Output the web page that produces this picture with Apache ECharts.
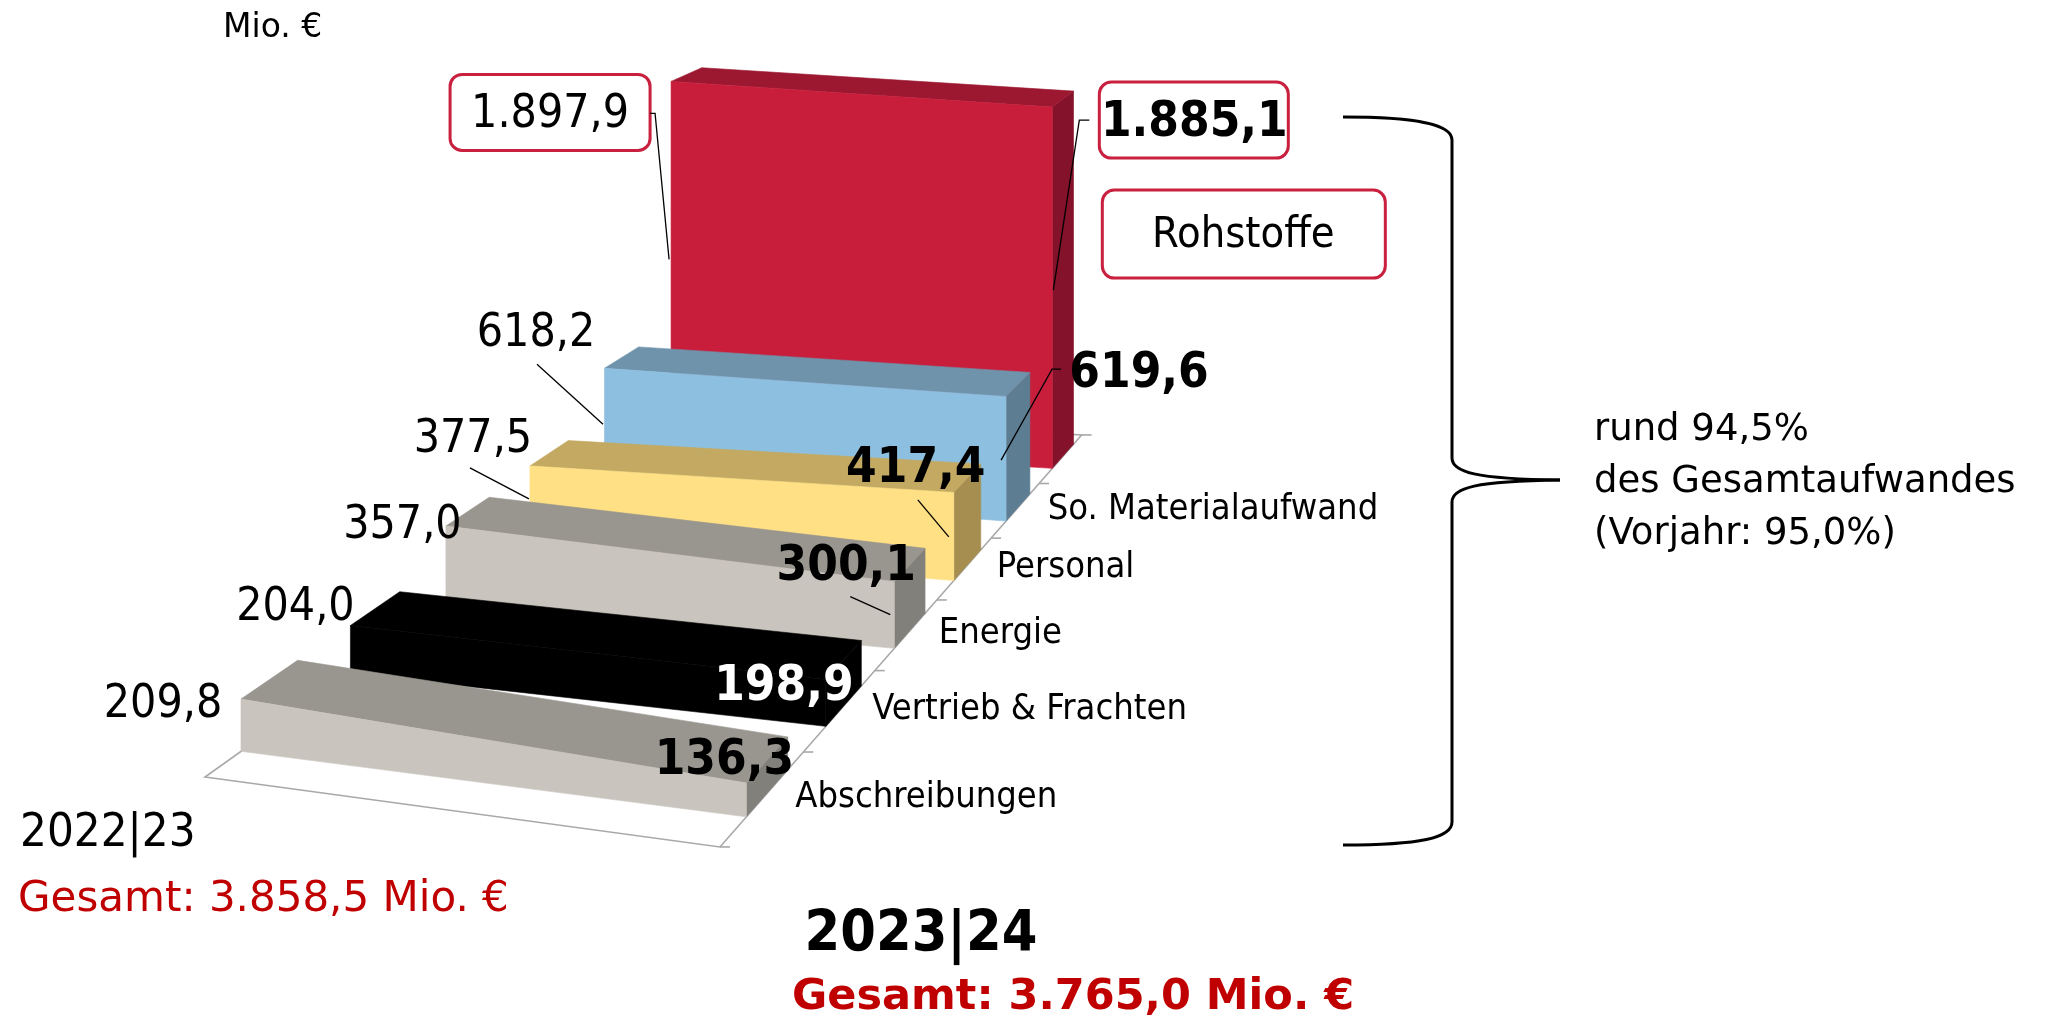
<!DOCTYPE html>
<html>
<head>
<meta charset="utf-8">
<title>Aufwandsstruktur</title>
<script src="https://cdn.jsdelivr.net/npm/echarts@6/dist/echarts.min.js"></script>
<style>
  html, body { margin: 0; padding: 0; background: #ffffff; }
  #chart { width: 2045px; height: 1021px; }
</style>
</head>
<body>
<div id="chart"></div>
<script>
// Aufwandsstruktur in Mio. €, 2022|23 gegenüber 2023|24
const categories = ['Abschreibungen', 'Vertrieb & Frachten', 'Energie', 'Personal', 'So. Materialaufwand', 'Rohstoffe'];
const years = ['2022|23', '2023|24'];
const values2223 = [209.8, 204.0, 357.0, 377.5, 618.2, 1897.9];
const values2324 = [136.3, 198.9, 300.1, 417.4, 619.6, 1885.1];
const totals = [3858.5, 3765.0];
const shareCurrent = 94.5;
const sharePrevious = 95.0;
const valueAxisMax = 2000;

// ---- styling ----
const FONT_N = "'DejaVu Sans Condensed', 'DejaVu Sans', sans-serif";
const FONT_W = "'DejaVu Sans', sans-serif";
const RED_TEXT = '#C00000';
const BOX_RED = '#C8203E';

const ribbonColors = [
  { front: '#C9C4BD', top: '#99968F', side: '#82807B' },
  { front: '#000000', top: '#000000', side: '#000000' },
  { front: '#C9C4BD', top: '#99968F', side: '#82807B' },
  { front: '#FFE085', top: '#C3A961', side: '#A68E50' },
  { front: '#8DC0E0', top: '#6E93AB', side: '#5D7E92' },
  { front: '#C81E3C', top: '#9C1730', side: '#84122A' }
];

// Perspective of the 3D floor (t along the years, z along the rows)
const VIEW = {
  fx: [443.7, 138, 205, -3],
  fy: [-13.9, -29.42, 777],
  fw: [-0.099, 0.0746],
  depthShrink: 0.061,
  rowFront: 0.3,
  rowDepth: 0.5,
  rows: categories.length
};

function project(t, z, h) {
  const w = VIEW.fw[0] * t + VIEW.fw[1] * z + 1;
  const x = (VIEW.fx[0] * t + VIEW.fx[1] * z + VIEW.fx[2] + VIEW.fx[3] * t * z) / w;
  const y = (VIEW.fy[0] * t + VIEW.fy[1] * z + VIEW.fy[2]) / w - h / (1 + VIEW.depthShrink * z);
  return [x, y];
}

// label offsets relative to the front top corners of each ribbon
const labelLayout = [
  { left: { dx: -78, dy: 6 }, right: { dx: -22, dy: -22 } },
  { left: { dx: -55, dy: -17 }, right: { dx: -42, dy: 8, color: '#ffffff' } },
  { left: { dx: -43.5, dy: 0 }, right: { dx: -48, dy: -14, leader: [[-44, 15], [-4, 33]] } },
  { left: { dx: -57, dy: -26, leader: [[-60, 2], [-1, 33]] },
    right: { dx: -38, dy: -23, leader: [[-36, 7.5], [-5, 44.5]] } },
  { left: { dx: -68.5, dy: -34, leader: [[-67.5, -4], [-1.5, 56]] },
    right: { dx: 133, dy: -22, leader: [[55, -27.5], [46, -27.5], [-5, 63.5]] } },
  { left: { dx: -121, dy: 34, box: [-221, -7, 200, 76], leader: [[-21, 32], [-16, 32], [-2, 178]] },
    right: { dx: 142, dy: 16, box: [47, -25, 189, 76], leader: [[37, 13], [27, 13], [1, 183]] },
    nameBox: { dx: 191, dy: 129, box: [50, 83, 283, 88] } }
];

function fmtDe(v, digits) {
  const parts = v.toFixed(digits).split('.');
  const intPart = parts[0].replace(/\B(?=(\d{3})+(?!\d))/g, '.');
  return parts.length > 1 ? intPart + ',' + parts[1] : intPart;
}

// rows drawn from back to front
const ribbonData = [];
for (let i = categories.length - 1; i >= 0; i--) {
  ribbonData.push([i, values2223[i], values2324[i]]);
}

function ribbonGeometry(params, api, row, v0, v1) {
  const rect = params.coordSys;
  const base = rect.y + rect.height;
  const p0 = api.coord([0, v0]);
  const p1 = api.coord([1, v1]);
  return {
    t0: (p0[0] - rect.x) / rect.width,
    t1: (p1[0] - rect.x) / rect.width,
    h0: base - p0[1],
    h1: base - p1[1],
    zf: row + VIEW.rowFront,
    zb: row + VIEW.rowFront + VIEW.rowDepth
  };
}

function renderRibbon(params, api) {
  const row = api.value(0);
  const g = ribbonGeometry(params, api, row, api.value(1), api.value(2));
  const c = ribbonColors[row];
  const front = [project(g.t0, g.zf, 0), project(g.t1, g.zf, 0), project(g.t1, g.zf, g.h1), project(g.t0, g.zf, g.h0)];
  const top = [project(g.t0, g.zf, g.h0), project(g.t1, g.zf, g.h1), project(g.t1, g.zb, g.h1), project(g.t0, g.zb, g.h0)];
  const side = [project(g.t1, g.zf, 0), project(g.t1, g.zb, 0), project(g.t1, g.zb, g.h1), project(g.t1, g.zf, g.h1)];
  return {
    type: 'group',
    children: [
      { type: 'polygon', shape: { points: side }, style: { fill: c.side, stroke: c.side, lineWidth: 0.6 } },
      { type: 'polygon', shape: { points: top }, style: { fill: c.top, stroke: c.top, lineWidth: 0.6 } },
      { type: 'polygon', shape: { points: front }, style: { fill: c.front, stroke: c.front, lineWidth: 0.6 } }
    ]
  };
}

function renderFloor(params, api) {
  const rect = params.coordSys;
  const tl = (api.coord([0, 0])[0] - rect.x) / rect.width;
  const tr = (api.coord([1, 0])[0] - rect.x) / rect.width;
  const n = VIEW.rows;
  const children = [{
    type: 'polygon',
    shape: { points: [project(tl, 0, 0), project(tr, 0, 0), project(tr, n, 0), project(tl, n, 0)] },
    style: { fill: '#ffffff', stroke: '#A8A8A8', lineWidth: 1.6 }
  }];
  for (let k = 0; k <= n; k++) {
    const p = project(tr, k, 0);
    children.push({ type: 'line', shape: { x1: p[0], y1: p[1], x2: p[0] + 10, y2: p[1] },
      style: { stroke: '#A8A8A8', lineWidth: 1.6 } });
  }
  for (let i = 0; i < n - 1; i++) {
    const p = project(tr, i + 0.5, 0);
    children.push({ type: 'text', x: p[0] + 32, y: p[1],
      style: { text: categories[i], font: '36px ' + FONT_N, fill: '#000', align: 'left', verticalAlign: 'middle' } });
  }
  return { type: 'group', children: children };
}

function labelElements(anchor, spec, text, bold, size) {
  const out = [];
  if (spec.box) {
    out.push({ type: 'rect',
      shape: { x: anchor[0] + spec.box[0], y: anchor[1] + spec.box[1], width: spec.box[2], height: spec.box[3], r: 12 },
      style: { fill: '#ffffff', stroke: BOX_RED, lineWidth: 3 } });
  }
  if (spec.leader) {
    out.push({ type: 'polyline',
      shape: { points: spec.leader.map(function (p) { return [anchor[0] + p[0], anchor[1] + p[1]]; }) },
      style: { stroke: '#000', lineWidth: 1.3, fill: null } });
  }
  out.push({ type: 'text', x: anchor[0] + spec.dx, y: anchor[1] + spec.dy,
    style: { text: text, font: (bold ? 'bold ' : '') + size + 'px ' + FONT_N,
      fill: spec.color || '#000', align: 'center', verticalAlign: 'middle' } });
  return out;
}

function renderLabels(params, api) {
  const row = api.value(0);
  const v0 = api.value(1), v1 = api.value(2);
  const g = ribbonGeometry(params, api, row, v0, v1);
  const lay = labelLayout[row];
  const aLeft = project(g.t0, g.zf, g.h0);
  const aRight = project(g.t1, g.zf, g.h1);
  let children = [];
  children = children.concat(labelElements(aLeft, lay.left, fmtDe(v0, 1), false, 46));
  children = children.concat(labelElements(aRight, lay.right, fmtDe(v1, 1), true, 49));
  if (lay.nameBox) {
    children = children.concat(labelElements(aRight, lay.nameBox, categories[row], false, 43));
  }
  return { type: 'group', children: children };
}

const chart = echarts.init(document.getElementById('chart'), null, { renderer: 'canvas' });

const braceText = 'rund ' + fmtDe(shareCurrent, 1) + '%\ndes Gesamtaufwandes\n(Vorjahr: ' + fmtDe(sharePrevious, 1) + '%)';
const braceStyle = { stroke: '#000', lineWidth: 3, fill: null };

chart.setOption({
  animation: false,
  backgroundColor: '#ffffff',
  grid: { left: 0, top: 0, width: 1000, height: valueAxisMax * 0.2536, containLabel: false },
  xAxis: { type: 'category', data: years, boundaryGap: false, show: false },
  yAxis: { type: 'value', min: 0, max: valueAxisMax, show: false },
  series: [
    { type: 'custom', name: 'Boden', z: 1, silent: true, data: [[0, 0, 0]], renderItem: renderFloor },
    { type: 'custom', name: 'Aufwand', z: 2, silent: true, data: ribbonData, renderItem: renderRibbon },
    { type: 'custom', name: 'Werte', z: 3, silent: true, data: ribbonData, renderItem: renderLabels }
  ],
  graphic: [
    { type: 'text', x: 223, y: 28, style: { text: 'Mio. €', font: '33px ' + FONT_W, fill: '#000', verticalAlign: 'middle' } },
    { type: 'text', x: 20, y: 834, style: { text: years[0], font: '47px ' + FONT_N, fill: '#000', verticalAlign: 'middle' } },
    { type: 'text', x: 18, y: 900, style: { text: 'Gesamt: ' + fmtDe(totals[0], 1) + ' Mio. €', font: '42px ' + FONT_W, fill: RED_TEXT, verticalAlign: 'middle' } },
    { type: 'text', x: 921, y: 936, style: { text: years[1], font: 'bold 57px ' + FONT_N, fill: '#000', align: 'center', verticalAlign: 'middle' } },
    { type: 'text', x: 792, y: 998, style: { text: 'Gesamt: ' + fmtDe(totals[1], 1) + ' Mio. €', font: 'bold 43px ' + FONT_W, fill: RED_TEXT, verticalAlign: 'middle' } },
    { type: 'text', x: 1594, y: 482, style: { text: braceText, font: '37px ' + FONT_W, fill: '#000', lineHeight: 52, verticalAlign: 'middle' } },
    // curly brace
    { type: 'bezierCurve', shape: { x1: 1343, y1: 117, cpx1: 1420, cpy1: 117, cpx2: 1452, cpy2: 125, x2: 1452, y2: 140 }, style: braceStyle },
    { type: 'line', shape: { x1: 1452, y1: 140, x2: 1452, y2: 458 }, style: braceStyle },
    { type: 'bezierCurve', shape: { x1: 1452, y1: 458, cpx1: 1452, cpy1: 472, cpx2: 1475, cpy2: 479, x2: 1560, y2: 480 }, style: braceStyle },
    { type: 'bezierCurve', shape: { x1: 1560, y1: 480, cpx1: 1475, cpy1: 481, cpx2: 1452, cpy2: 488, x2: 1452, y2: 502 }, style: braceStyle },
    { type: 'line', shape: { x1: 1452, y1: 502, x2: 1452, y2: 822 }, style: braceStyle },
    { type: 'bezierCurve', shape: { x1: 1452, y1: 822, cpx1: 1452, cpy1: 838, cpx2: 1420, cpy2: 845, x2: 1343, y2: 845 }, style: braceStyle }
  ]
});
</script>
</body>
</html>
